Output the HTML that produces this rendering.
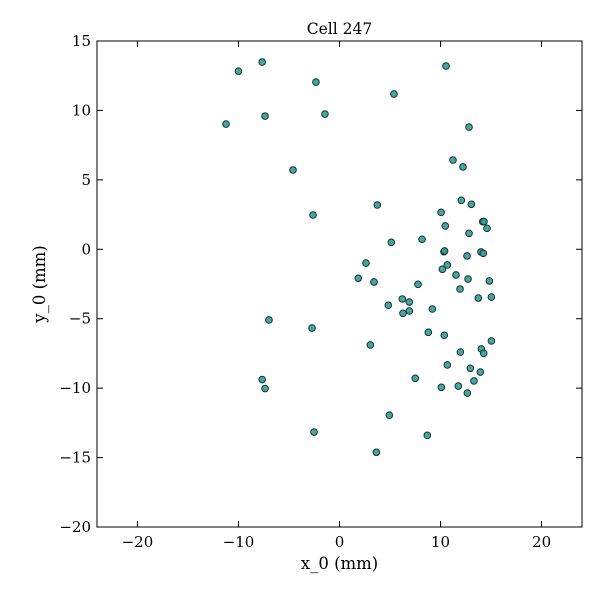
<!DOCTYPE html>
<html><head><meta charset="utf-8"><style>
body{margin:0;background:#fff}
svg text{font-family:"DejaVu Serif","Liberation Serif",serif;fill:#000}
</style></head><body>
<svg id="chart" width="600" height="600" viewBox="0 0 600 600" xmlns="http://www.w3.org/2000/svg">
<rect width="600" height="600" fill="#fff"/>
<text x="339.5" y="34" font-size="15.5" text-anchor="middle">Cell 247</text>
<g id="ticks"></g>
<g id="points"></g>
<rect x="97" y="41" width="485" height="486" fill="none" stroke="#000" stroke-width="1"/>
<text x="339.5" y="569" font-size="16.5" text-anchor="middle">x_0 (mm)</text>
<text transform="translate(45,284) rotate(-90)" font-size="16.5" text-anchor="middle">y_0 (mm)</text>
</svg>
<script>
const xTicks=[-20,-10,0,10,20];
const xTickLabels=["\u221220","\u221210","0","10","20"];
const yTicks=[15,10,5,0,-5,-10,-15,-20];
const yTickLabels=["15","10","5","0","\u22125","\u221210","\u221215","\u221220"];
const xVals=[3.74,12.06,13.05,10.05,10.47,14.17,14.3,14.6,12.82,5.13,8.17,10.34,10.4,14.0,14.23,12.62,2.62,10.67,10.18,1.86,3.41,11.53,12.72,14.83,7.77,11.93,13.74,15.03,6.22,6.91,4.83,6.28,6.91,9.19,3.05,8.79,10.37,15.03,11.96,14.04,14.27,10.67,12.95,13.94,7.50,13.31,10.08,11.76,12.65,4.93,8.69,3.65,-7.65,-10.0,-2.33,10.54,5.39,-11.23,-7.37,-1.44,12.82,11.23,12.22,-4.60,-2.62,-6.98,-2.72,-7.65,-7.37,-2.52];
const yVals=[3.19,3.53,3.24,2.66,1.68,1.99,2.0,1.51,1.15,0.50,0.72,-0.17,-0.12,-0.19,-0.29,-0.48,-0.99,-1.13,-1.44,-2.09,-2.35,-1.85,-2.14,-2.28,-2.52,-2.86,-3.51,-3.44,-3.58,-3.80,-4.03,-4.61,-4.44,-4.30,-6.89,-5.98,-6.19,-6.60,-7.40,-7.18,-7.49,-8.33,-8.57,-8.84,-9.29,-9.48,-9.94,-9.85,-10.35,-11.95,-13.4,-14.62,13.48,12.83,12.04,13.20,11.18,9.02,9.59,9.74,8.80,6.43,5.93,5.71,2.47,-5.09,-5.67,-9.38,-10.03,-13.16];
const X0=97,X1=582,Y0=41,Y1=527,xmin=-24,xmax=24,ymin=-20,ymax=15;
const sx=v=>X0+(v-xmin)/(xmax-xmin)*(X1-X0);
const sy=v=>Y1-(v-ymin)/(ymax-ymin)*(Y1-Y0);
const NS="http://www.w3.org/2000/svg";
const tg=document.getElementById('ticks');
function mk(tag,attrs,parent){const e=document.createElementNS(NS,tag);for(const k in attrs)e.setAttribute(k,attrs[k]);parent.appendChild(e);return e;}
xTicks.forEach((v,i)=>{
  const x=sx(v);
  const t1=mk('line',{x1:x,x2:x,y1:Y1,y2:Y1-6,stroke:'#000'},tg);
  
  
  mk('line',{x1:x,x2:x,y1:Y0,y2:Y0+6,stroke:'#000'},tg);
  const l=mk('text',{x:x,y:Y1+20,'font-size':15,'text-anchor':'middle'},tg);
  l.textContent=xTickLabels[i];
  
  
});
yTicks.forEach((v,i)=>{
  const y=sy(v);
  const t1=mk('line',{x1:X0,x2:X0+6,y1:y,y2:y,stroke:'#000'},tg);
  
  
  mk('line',{x1:X1,x2:X1-6,y1:y,y2:y,stroke:'#000'},tg);
  const l=mk('text',{x:X0-6,y:y+5,'font-size':15,'text-anchor':'end'},tg);
  l.textContent=yTickLabels[i];
  
  
});
const pg=document.getElementById('points');
xVals.forEach((v,i)=>{
  const c=mk('circle',{cx:sx(v),cy:sy(yVals[i]),r:3.3,fill:'#2e9f99','fill-opacity':0.9,stroke:'#1c2e2e','stroke-width':1},pg);
  
  
});
</script>
</body></html>
